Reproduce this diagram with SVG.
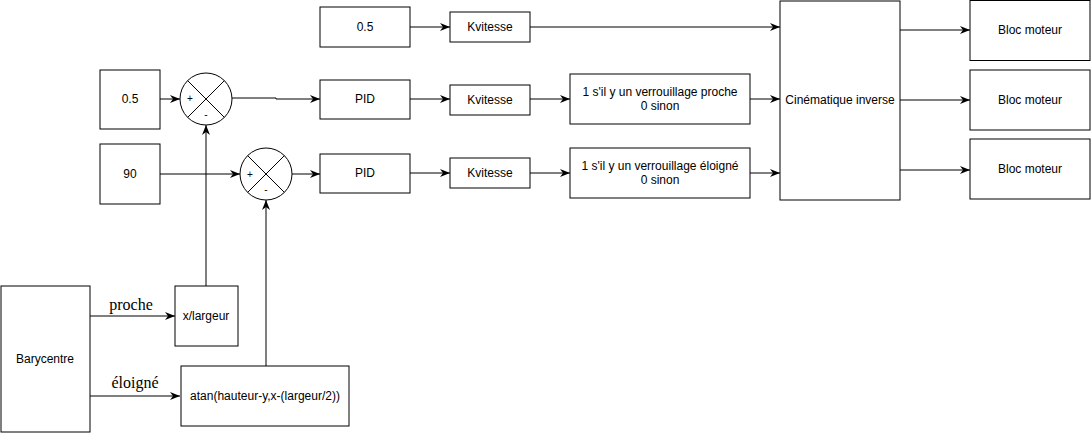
<svg xmlns="http://www.w3.org/2000/svg" width="1091" height="433" viewBox="0 0 1091 433">
<style>
.b{fill:#fff;stroke:#000;stroke-width:1}
.t{font-family:"Liberation Sans",Arial,sans-serif;font-size:12px;fill:#000;text-anchor:middle;dominant-baseline:central}
.s{font-family:"Liberation Serif","DejaVu Serif",serif;font-size:16px;fill:#000;text-anchor:middle}
.c{fill:none;stroke:#000;stroke-width:1}
.e{fill:none;stroke:#000;stroke-width:1;marker-end:url(#a)}
</style>
<defs>
<marker id="a" viewBox="0 0 10 8" refX="10" refY="4" markerWidth="10" markerHeight="8" markerUnits="userSpaceOnUse" orient="auto">
<path d="M0,0 L10,4 L0,8 L3,4 Z" fill="#000"/>
</marker>
</defs>
<rect width="1091" height="433" fill="#fff"/>
<g id="connectors">
<path class="e" d="M410,27 H450"/>
<path class="e" d="M530,27 H780"/>
<path class="e" d="M410,99 H450"/>
<path class="e" d="M530,99 H570"/>
<path class="e" d="M750,99 H780"/>
<path class="e" d="M410,173 H450"/>
<path class="e" d="M530,173 H570"/>
<path class="e" d="M750,173 H780"/>
<path class="e" d="M900,30 H970"/>
<path class="e" d="M900,100 H970"/>
<path class="e" d="M900,170 H970"/>
<path class="e" d="M160,99 H180"/>
<path class="e" d="M232,98 H276 V99 H320"/>
<path class="e" d="M160,174 H240"/>
<path class="e" d="M292,174 H320"/>
<path class="e" d="M206,286 V125"/>
<path class="e" d="M266,366 V200"/>
<path class="e" d="M90,316 H175"/>
<path class="e" d="M90,396 H180"/>
<text class="s" x="131" y="310">proche</text>
<text class="s" x="135" y="388">éloigné</text>
</g>
<g id="n05top"><rect class="b" x="320" y="7" width="90" height="40"/><text class="t" x="365" y="27">0.5</text></g>
<g id="kv1"><rect class="b" x="450" y="12" width="80" height="30"/><text class="t" x="490" y="27">Kvitesse</text></g>
<g id="pid1"><rect class="b" x="320" y="80" width="90" height="39"/><text class="t" x="365" y="99">PID</text></g>
<g id="kv2"><rect class="b" x="450" y="85" width="80" height="30"/><text class="t" x="490" y="100">Kvitesse</text></g>
<g id="pid2"><rect class="b" x="320" y="154" width="90" height="39"/><text class="t" x="365" y="173">PID</text></g>
<g id="kv3"><rect class="b" x="450" y="158" width="80" height="30"/><text class="t" x="490" y="173">Kvitesse</text></g>
<g id="verr1"><rect class="b" x="570" y="74" width="180" height="50"/><text class="t" x="660" y="92">1 s'il y un verrouillage proche</text><text class="t" x="660" y="106">0 sinon</text></g>
<g id="verr2"><rect class="b" x="570" y="148" width="180" height="50"/><text class="t" x="660" y="166">1 s'il y un verrouillage éloigné</text><text class="t" x="660" y="180">0 sinon</text></g>
<g id="cinematique"><rect class="b" x="780" y="1" width="120" height="199"/><text class="t" x="840" y="100">Cinématique inverse</text></g>
<g id="moteur1"><rect class="b" x="970" y="0.5" width="120" height="60"/><text class="t" x="1030" y="30">Bloc moteur</text></g>
<g id="moteur2"><rect class="b" x="970" y="70" width="120" height="60"/><text class="t" x="1030" y="100">Bloc moteur</text></g>
<g id="moteur3"><rect class="b" x="970" y="139" width="120" height="60"/><text class="t" x="1030" y="169">Bloc moteur</text></g>
<g id="n05left"><rect class="b" x="100" y="70" width="60" height="59"/><text class="t" x="130" y="99">0.5</text></g>
<g id="n90"><rect class="b" x="100" y="144" width="60" height="60"/><text class="t" x="130" y="174">90</text></g>
<g id="sum1"><circle class="b" cx="206" cy="99" r="26"/><path class="c" d="M187.6,80.6 L224.4,117.4 M224.4,80.6 L187.6,117.4"/><text class="t" x="190" y="98" style="font-size:10px">+</text><text class="t" x="206" y="114" style="font-size:10px">-</text></g>
<g id="sum2"><circle class="b" cx="266" cy="174" r="26"/><path class="c" d="M247.6,155.6 L284.4,192.4 M284.4,155.6 L247.6,192.4"/><text class="t" x="250" y="174" style="font-size:10px">+</text><text class="t" x="266" y="189" style="font-size:10px">-</text></g>
<g id="barycentre"><rect class="b" x="1" y="286" width="89" height="146"/><text class="t" x="45" y="359">Barycentre</text></g>
<g id="xlargeur"><rect class="b" x="175" y="286" width="63" height="60"/><text class="t" x="206" y="316">x/largeur</text></g>
<g id="atan"><rect class="b" x="181" y="366" width="168" height="60"/><text class="t" x="265" y="396">atan(hauteur-y,x-(largeur/2))</text></g>
</svg>
